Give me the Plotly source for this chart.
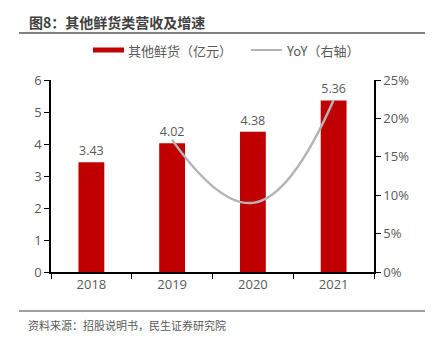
import plotly.graph_objects as go

years = ["2018", "2019", "2020", "2021"]
revenue = [3.43, 4.02, 4.38, 5.36]
yoy_years = ["2019", "2020", "2021"]
yoy = [0.172, 0.090, 0.224]
left_ticks = [0, 1, 2, 3, 4, 5, 6]
right_ticks = [0, 0.05, 0.10, 0.15, 0.20, 0.25]

title = "图8：其他鲜货类营收及增速"
source = "资料来源：招股说明书，民生证券研究院"
bar_name = "其他鲜货（亿元）"
line_name = "YoY（右轴）"

FONT = "Noto Sans CJK SC, Open Sans, sans-serif"
NUMFONT = "Open Sans, Noto Sans CJK SC, sans-serif"
GRAY = "#595959"
RED = "#C00000"

fig = go.Figure()
fig.add_trace(go.Bar(
    x=years, y=revenue, name=bar_name, marker=dict(color=RED, line=dict(width=0)),
    width=0.32, text=[f"{v:.2f}" for v in revenue], textposition="outside",
    textfont=dict(size=12.5, color=GRAY, family=NUMFONT), cliponaxis=False, showlegend=False,
))
fig.add_trace(go.Scatter(
    x=yoy_years, y=yoy, name=line_name, yaxis="y2", mode="lines",
    line=dict(color="#B4B4B4", width=2.5, shape="spline", smoothing=1.3), showlegend=False,
))

L, R, T, B = 51, 65, 80, 69
W, H = 439, 341
pw = W - L - R
ph = H - T - B

def px_x(x):
    return (x - L) / pw

def px_y(y):
    return (H - B - y) / ph

tick_font = dict(size=13, color=GRAY, family=NUMFONT)
fig.update_layout(
    width=W, height=H, margin=dict(l=L, r=R, t=T, b=B),
    paper_bgcolor="white", plot_bgcolor="white",
    font=dict(family=FONT, size=12, color=GRAY),
    bargap=0.68,
    xaxis=dict(type="category", showline=True, linecolor="black", linewidth=1.5,
               ticks="outside", tickson="boundaries", ticklen=5, tickcolor="black",
               tickfont=tick_font, showgrid=False, zeroline=False),
    yaxis=dict(range=[0, 6], tickvals=left_ticks, showline=True, linecolor="black", linewidth=1.5,
               ticks="outside", ticklen=5, tickcolor="black", showgrid=False, zeroline=False,
               tickfont=tick_font),
    yaxis2=dict(range=[0, 0.25], tickvals=right_ticks, tickformat=".0%", overlaying="y", side="right",
                showline=True, linecolor="black", linewidth=1.5, ticks="outside", ticklen=5,
                tickcolor="black", showgrid=False, zeroline=False, tickfont=tick_font),
    showlegend=False,
)

shapes = [
    dict(type="line", xref="paper", yref="paper", x0=px_x(19), x1=px_x(425), y0=px_y(33), y1=px_y(33),
         line=dict(color="#595959", width=1.5)),
    dict(type="line", xref="paper", yref="paper", x0=px_x(19), x1=px_x(425), y0=px_y(311), y1=px_y(311),
         line=dict(color="#7F7F7F", width=1.5)),
    dict(type="rect", xref="paper", yref="paper", x0=px_x(93), x1=px_x(124), y0=px_y(52.5), y1=px_y(47.5),
         fillcolor=RED, line=dict(width=0)),
    dict(type="line", xref="paper", yref="paper", x0=px_x(251), x1=px_x(282), y0=px_y(50), y1=px_y(50),
         line=dict(color="#B4B4B4", width=2)),
]
annotations = [
    dict(text=f"<b>{title}</b>", xref="paper", yref="paper", x=px_x(27), y=px_y(22), xanchor="left",
         yanchor="middle", showarrow=False, font=dict(size=14, color="#404040", family=FONT)),
    dict(text=bar_name, xref="paper", yref="paper", x=px_x(126), y=px_y(50), xanchor="left",
         yanchor="middle", showarrow=False, font=dict(size=13, color=GRAY, family=FONT)),
    dict(text=line_name, xref="paper", yref="paper", x=px_x(284), y=px_y(50), xanchor="left",
         yanchor="middle", showarrow=False, font=dict(size=13, color=GRAY, family=FONT)),
    dict(text=source, xref="paper", yref="paper", x=px_x(26), y=px_y(325), xanchor="left",
         yanchor="middle", showarrow=False, font=dict(size=11, color=GRAY, family=FONT)),
]
fig.update_layout(shapes=shapes, annotations=annotations)

fig.write_html("out.html")
